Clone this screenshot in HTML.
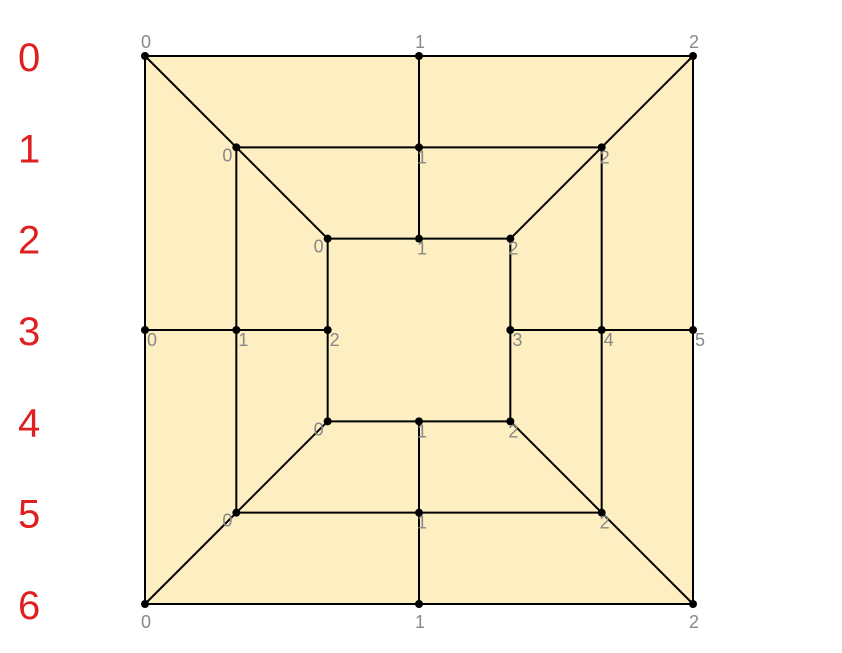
<!DOCTYPE html>
<html><head><meta charset="utf-8"><style>
html,body{margin:0;padding:0;background:#fff;width:842px;height:653px;overflow:hidden}
svg{display:block}
</style></head><body>
<svg id="board" width="842" height="653" viewBox="0 0 842 653" xmlns="http://www.w3.org/2000/svg"></svg>
<script>
// data: grid coordinates (0..6) of each point, row labels and point labels
const rowLabels = ["0","1","2","3","4","5","6"];
const pointRows = [0,0,0,1,1,1,2,2,2,3,3,3,3,3,3,4,4,4,5,5,5,6,6,6];
const pointCols = [0,3,6,1,3,5,2,3,4,0,1,2,4,5,6,2,3,4,1,3,5,0,3,6];
const pointLabels = ["0","1","2","0","1","2","0","1","2","0","1","2","3","4","5","0","1","2","0","1","2","0","1","2"];
const lineFrom = [[0,0],[1,1],[2,2],[0,0],[1,1],[2,2],[6,0],[5,1],[4,2],[0,6],[1,5],[2,4],[0,3],[4,3],[3,0],[3,4],[0,0],[6,6],[0,6],[6,0]];
const lineTo   = [[0,6],[1,5],[2,4],[6,0],[5,1],[4,2],[6,6],[5,5],[4,4],[6,6],[5,5],[4,4],[2,3],[6,3],[3,2],[3,6],[2,2],[4,4],[2,4],[4,2]];

const svg=document.getElementById('board');
const NS='http://www.w3.org/2000/svg';
const x0=145,y0=56,step=(693-145)/6;
function sx(c){return x0+c*step;}
function sy(r){return y0+r*step;}
function mk(t,a){const e=document.createElementNS(NS,t);for(const k in a)e.setAttribute(k,a[k]);svg.appendChild(e);return e;}

const bg=mk('rect',{x:sx(0),y:sy(0),width:sx(6)-sx(0),height:sy(6)-sy(0),fill:'#fdefc2'});



for(let i=0;i<lineFrom.length;i++){
  const l=mk('line',{x1:sx(lineFrom[i][1]),y1:sy(lineFrom[i][0]),x2:sx(lineTo[i][1]),y2:sy(lineTo[i][0]),stroke:'#000','stroke-width':2});
  
  
}
for(let i=0;i<pointRows.length;i++){
  const cx=sx(pointCols[i]),cy=sy(pointRows[i]);
  const p=mk('circle',{cx:cx,cy:cy,r:4,fill:'#000'});
  
  
  const r=pointRows[i],c=pointCols[i];
  let tx=cx-2,ty=cy+16;
  if(c<3&&r>0&&r<6){tx=cx-14;ty=cy+14;}
  if(r===3){tx=cx+2;ty=cy+16;}
  if(r===0){tx=cx-4;ty=cy-8;}
  else if(r===6){tx=cx-4;ty=cy+24;}
  const t=mk('text',{x:tx,y:ty,fill:'#888','font-size':18,'font-family':'"Liberation Sans",sans-serif'});
  t.textContent=pointLabels[i];
  
  
}
for(let i=0;i<rowLabels.length;i++){
  const t=mk('text',{x:18,y:sy(i)+15,fill:'#e02020','font-size':40,'font-family':'"Liberation Sans",sans-serif'});
  t.textContent=rowLabels[i];
  
  
}
</script>
</body></html>
